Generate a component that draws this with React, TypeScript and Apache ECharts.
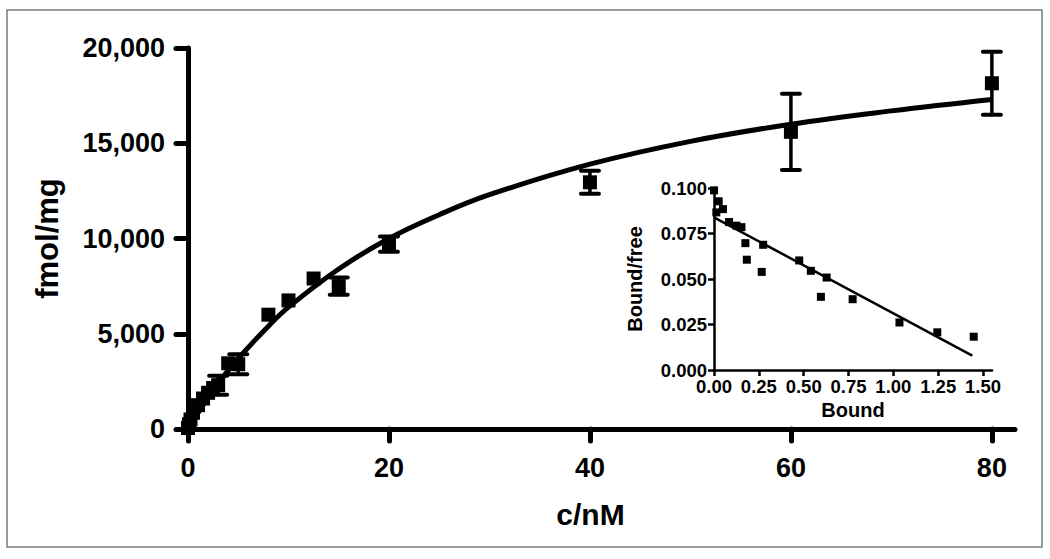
import React, { useEffect, useRef } from "react";
import * as echarts from "echarts";

// Main saturation binding data (c/nM vs fmol/mg)
const concNM = [0, 0.1, 0.25, 0.5, 1, 1.5, 2, 2.5, 3, 4, 5, 8, 10, 12.5, 15, 20, 40, 60, 80];
const boundMean = [50, 250, 500, 850, 1250, 1600, 1900, 2150, 2300, 3450, 3400, 6000, 6750, 7900, 7500, 9700, 12950, 15600, 18150];
const boundSem = [0, 0, 0, 0, 0, 0, 0, 0, 500, 0, 520, 0, 0, 0, 450, 400, 600, 2000, 1650];

// Fitted hyperbola
const fitConc = [0, 1, 2, 3, 5, 8, 10, 15, 20, 25, 30, 40, 50, 60, 70, 80];
const fitBound = [0, 850, 1650, 2400, 3700, 5400, 6400, 8400, 10000, 11250, 12300, 13900, 15100, 16000, 16700, 17300];

const mainXTicks = [0, 20, 40, 60, 80];

// Scatchard inset
const scBound = [0.0, 0.013, 0.026, 0.05, 0.084, 0.125, 0.153, 0.175, 0.183, 0.266, 0.274, 0.475, 0.54, 0.596, 0.628, 0.773, 1.034, 1.245, 1.448];
const scRatio = [0.0987, 0.0866, 0.0927, 0.0884, 0.0813, 0.0793, 0.0785, 0.0697, 0.0606, 0.0539, 0.0688, 0.0602, 0.0545, 0.0402, 0.0508, 0.0389, 0.0261, 0.0207, 0.0183];
const scFitX = [0, 1.44];
const scFitY = [0.0839, 0.0079];
const insetXTicks = [0, 0.25, 0.5, 0.75, 1.0, 1.25, 1.5];

const FONT = "Liberation Sans";

export default function App() {
  const ref = useRef<HTMLDivElement>(null);
  useEffect(() => {
    if (!ref.current) return;
    const chart = echarts.init(ref.current, null, { renderer: "svg" });
    const pts = concNM.map((x, i) => [x, boundMean[i]]);
    const errs = concNM
      .map((x, i) => [x, boundMean[i] - boundSem[i], boundMean[i] + boundSem[i], boundSem[i]])
      .filter((d) => d[3] > 0);
    const axisLine = (w: number) => ({ show: true, lineStyle: { color: "#000", width: w, cap: "round" } });
    chart.setOption({
      animation: false,
      backgroundColor: "#fff",
      graphic: [
        {
          type: "rect",
          shape: { x: 7, y: 10, width: 1035, height: 537 },
          style: { fill: "none", stroke: "#7a7a7a", lineWidth: 1.5 },
          z: -1,
        },
      ],
      grid: [
        { left: 188, top: 48, width: 827, height: 381 },
        { left: 714, top: 188, width: 278, height: 182 },
      ],
      xAxis: [
        {
          gridIndex: 0,
          type: "value",
          min: 0,
          max: 82.3,
          splitLine: { show: false },
          axisLine: axisLine(5),
          axisTick: { customValues: mainXTicks, length: 12, lineStyle: { width: 5, color: "#000", cap: "round" } },
          axisLabel: {
            customValues: mainXTicks,
            margin: 25,
            color: "#000",
            fontFamily: FONT,
            fontWeight: "bold",
            fontSize: 27,
          },
          name: "c/nM",
          nameLocation: "middle",
          nameGap: 70,
          nameTextStyle: { color: "#000", fontFamily: FONT, fontWeight: "bold", fontSize: 30, padding: [0, 22, 0, 0] },
        },
        {
          gridIndex: 1,
          type: "value",
          min: 0,
          max: 1.55,
          splitLine: { show: false },
          axisLine: axisLine(2.5),
          axisTick: { customValues: insetXTicks, length: 6, lineStyle: { width: 2.5, color: "#000" } },
          axisLabel: {
            customValues: insetXTicks,
            margin: 7,
            color: "#000",
            fontFamily: FONT,
            fontWeight: "bold",
            fontSize: 18.5,
            formatter: (v: number) => v.toFixed(2),
          },
          name: "Bound",
          nameLocation: "middle",
          nameGap: 30,
          nameTextStyle: { color: "#000", fontFamily: FONT, fontWeight: "bold", fontSize: 20 },
        },
      ],
      yAxis: [
        {
          gridIndex: 0,
          type: "value",
          min: 0,
          max: 20000,
          interval: 5000,
          splitLine: { show: false },
          axisLine: axisLine(5),
          axisTick: { length: 12, lineStyle: { width: 5, color: "#000", cap: "round" } },
          axisLabel: {
            margin: 23,
            color: "#000",
            fontFamily: FONT,
            fontWeight: "bold",
            fontSize: 27,
            formatter: (v: number) => v.toLocaleString("en-US"),
          },
          name: "fmol/mg",
          nameLocation: "middle",
          nameGap: 125,
          nameTextStyle: { color: "#000", fontFamily: FONT, fontWeight: "bold", fontSize: 31 },
        },
        {
          gridIndex: 1,
          type: "value",
          min: 0,
          max: 0.1,
          interval: 0.025,
          splitLine: { show: false },
          axisLine: axisLine(2.5),
          axisTick: { length: 6, lineStyle: { width: 2.5, color: "#000" } },
          axisLabel: {
            margin: 7,
            color: "#000",
            fontFamily: FONT,
            fontWeight: "bold",
            fontSize: 18.5,
            formatter: (v: number) => v.toFixed(3),
          },
          name: "Bound/free",
          nameLocation: "middle",
          nameGap: 69,
          nameTextStyle: { color: "#000", fontFamily: FONT, fontWeight: "bold", fontSize: 20 },
        },
      ],
      series: [
        {
          type: "line",
          xAxisIndex: 0,
          yAxisIndex: 0,
          data: fitConc.map((x, i) => [x, fitBound[i]]),
          smooth: 0.4,
          showSymbol: false,
          symbol: "none",
          lineStyle: { color: "#000", width: 5 },
          z: 3,
        },
        {
          type: "custom",
          xAxisIndex: 0,
          yAxisIndex: 0,
          data: errs,
          encode: { x: 0, y: [1, 2] },
          clip: false,
          z: 4,
          renderItem: (_p: any, api: any) => {
            const x = api.value(0);
            const top = api.coord([x, api.value(2)]);
            const bot = api.coord([x, api.value(1)]);
            const w = 9;
            const st = { stroke: "#000", lineWidth: 3.5, lineCap: "round" };
            return {
              type: "group",
              children: [
                { type: "line", shape: { x1: top[0], y1: top[1], x2: bot[0], y2: bot[1] }, style: st },
                { type: "line", shape: { x1: top[0] - w, y1: top[1], x2: top[0] + w, y2: top[1] }, style: { ...st, lineWidth: 4 } },
                { type: "line", shape: { x1: bot[0] - w, y1: bot[1], x2: bot[0] + w, y2: bot[1] }, style: { ...st, lineWidth: 4 } },
              ],
            };
          },
        },
        {
          type: "scatter",
          xAxisIndex: 0,
          yAxisIndex: 0,
          data: pts,
          symbol: "rect",
          symbolSize: 14,
          clip: false,
          itemStyle: { color: "#000", opacity: 1 },
          z: 5,
        },
        {
          type: "line",
          xAxisIndex: 1,
          yAxisIndex: 1,
          data: scFitX.map((x, i) => [x, scFitY[i]]),
          showSymbol: false,
          symbol: "none",
          lineStyle: { color: "#000", width: 2.5 },
          z: 3,
        },
        {
          type: "scatter",
          xAxisIndex: 1,
          yAxisIndex: 1,
          data: scBound.map((x, i) => [x, scRatio[i]]),
          symbol: "rect",
          symbolSize: 8,
          clip: false,
          itemStyle: { color: "#000", opacity: 1 },
          z: 5,
        },
      ],
    });
    return () => chart.dispose();
  }, []);
  return (
    <div
      ref={ref}
      style={{ position: "fixed", left: 0, top: 0, width: 1050, height: 559, background: "#fff" }}
    />
  );
}
